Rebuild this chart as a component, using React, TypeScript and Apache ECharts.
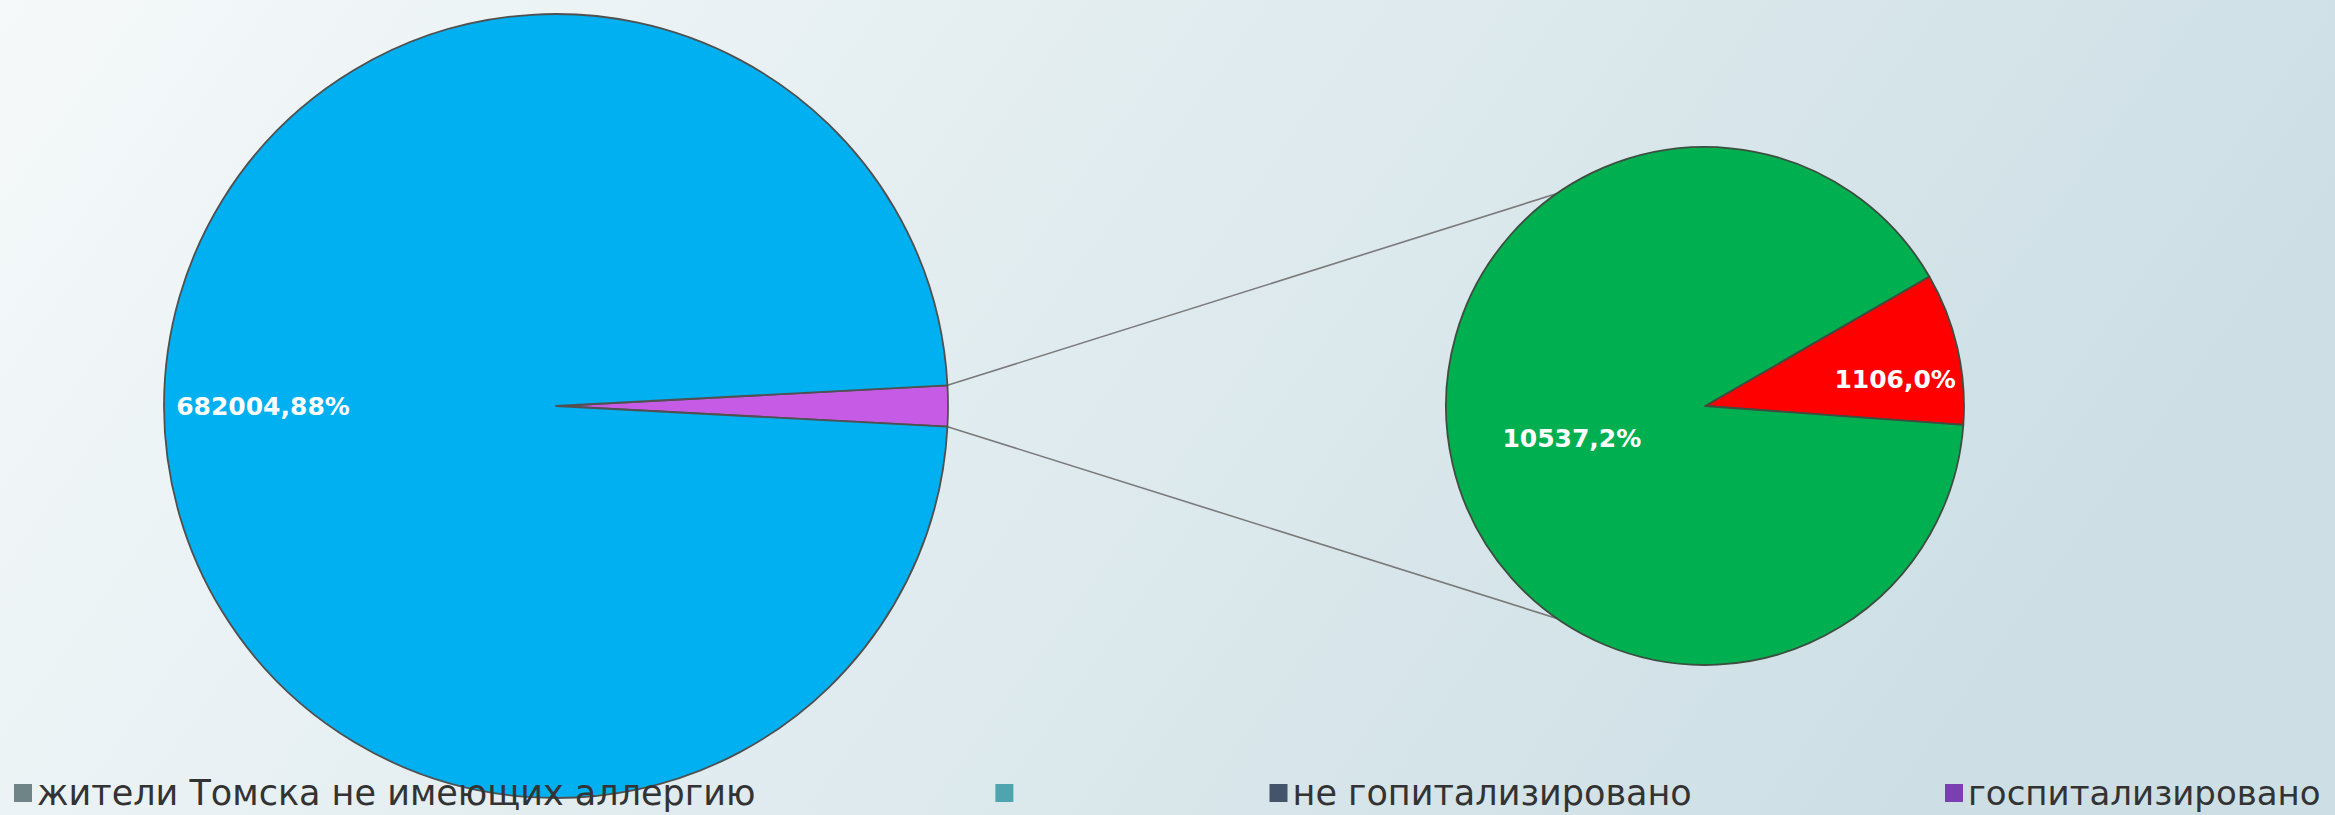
import React, { useEffect, useRef } from "react";
import * as echarts from "echarts";

// ---- data ----
const MAIN_NAMES = ["жители Томска не имеющих аллергию", " "];
const MAIN_VALUES = [682004];
const SECOND_NAMES = ["госпитализировано", "не гопитализировано"];
const SECOND_VALUES = [1106, 10537];
const MAIN_LABELS = ["682004,88%", ""];
const SECOND_LABELS = ["1106,0%", "10537,2%"];
const LEGEND_NAMES_A = ["жители Томска не имеющих аллергию", " ", "не гопитализировано"];
const LEGEND_COLORS_A = ["#6f8486", "#4fa5ad", "#44546a"];
const LEGEND_NAMES_B = ["госпитализировано"];
const LEGEND_COLORS_B = ["#7a3fb0"];

// ---- layout / style ----
const MAIN_CENTER = [556, 406];
const MAIN_R = 392;
const SEC_CENTER = [1705, 406];
const SEC_R = 259;
const SEC_START = 30;
const MAIN_LABEL_SHIFT = [[0, 0], [-94, 0]];
const SEC_LABEL_SHIFT = [[61, 3], [-4, 3]];

export default function App() {
  const ref = useRef<HTMLDivElement>(null);
  useEffect(() => {
    document.body.style.margin = "0";
    const chart = echarts.init(ref.current!, null, { renderer: "svg" });
    const otherTotal = SECOND_VALUES.reduce((a, b) => a + b, 0);
    const mainTotal = MAIN_VALUES[0] + otherTotal;
    const otherAngle = (otherTotal / mainTotal) * 360;
    const half = (otherAngle / 2) * Math.PI / 180;
    const p1 = [MAIN_CENTER[0] + MAIN_R * Math.cos(half), MAIN_CENTER[1] - MAIN_R * Math.sin(half)];
    const p2 = [MAIN_CENTER[0] + MAIN_R * Math.cos(half), MAIN_CENTER[1] + MAIN_R * Math.sin(half)];
    const q1 = [SEC_CENTER[0], SEC_CENTER[1] - SEC_R];
    const q2 = [SEC_CENTER[0], SEC_CENTER[1] + SEC_R];

    const labelStyle = {
      show: true,
      position: "inside",
      color: "#ffffff",
      fontFamily: "DejaVu Sans",
      fontWeight: "bold",
      fontSize: 25,
    };

    const legendBase = {
      top: 775,
      width: 2600,
      padding: 0,
      itemGap: 240,
      itemWidth: 18,
      itemHeight: 18,
      icon: "rect",
      selectedMode: false,
      textStyle: { fontFamily: "DejaVu Sans", fontSize: 35, color: "#333333", lineHeight: 36 },
    };

    chart.setOption({
      animation: false,
      backgroundColor: new echarts.graphic.LinearGradient(0, 0, 1, 0.25, [
        { offset: 0, color: "#f5f9fa" },
        { offset: 1, color: "#cddfe5" },
      ]),
      legend: [
        {
          ...legendBase,
          left: 14,
          data: LEGEND_NAMES_A.map((n, i) => ({ name: n, itemStyle: { color: LEGEND_COLORS_A[i], borderWidth: 0 } })),
        },
        {
          ...legendBase,
          left: 1945,
          textStyle: { ...legendBase.textStyle, fontSize: 34 },
          data: LEGEND_NAMES_B.map((n, i) => ({ name: n, itemStyle: { color: LEGEND_COLORS_B[i], borderWidth: 0 } })),
        },
      ],
      graphic: [
        { type: "line", shape: { x1: p1[0], y1: p1[1], x2: q1[0], y2: q1[1] }, style: { stroke: "#7a7a7a", lineWidth: 1.6 }, z: 0 },
        { type: "line", shape: { x1: p2[0], y1: p2[1], x2: q2[0], y2: q2[1] }, style: { stroke: "#7a7a7a", lineWidth: 1.6 }, z: 0 },
      ],
      series: [
        {
          type: "pie",
          z: 3,
          center: MAIN_CENTER,
          radius: MAIN_R,
          startAngle: otherAngle / 2,
          clockwise: true,
          avoidLabelOverlap: false,
          label: { ...labelStyle, formatter: (p: any) => MAIN_LABELS[p.dataIndex === 0 ? 1 : 0] },
          labelLine: { show: false },
          labelLayout: (p: any) => {
            const s = MAIN_LABEL_SHIFT[p.dataIndex];
            return { dx: s[0], dy: s[1] };
          },
          itemStyle: { borderColor: "#505050", borderWidth: 1.8 },
          emphasis: { disabled: true },
          data: [
            { name: MAIN_NAMES[1], value: otherTotal, itemStyle: { color: "#c65ce6" } },
            { name: MAIN_NAMES[0], value: MAIN_VALUES[0], itemStyle: { color: "#00b0f0" } },
          ],
        },
        {
          type: "pie",
          z: 3,
          center: SEC_CENTER,
          radius: SEC_R,
          startAngle: SEC_START,
          clockwise: true,
          avoidLabelOverlap: false,
          label: { ...labelStyle, formatter: (p: any) => SECOND_LABELS[p.dataIndex] },
          labelLine: { show: false },
          labelLayout: (p: any) => {
            const s = SEC_LABEL_SHIFT[p.dataIndex];
            return { dx: s[0], dy: s[1] };
          },
          itemStyle: { borderColor: "#3d4d40", borderWidth: 1.8 },
          emphasis: { disabled: true },
          data: [
            { name: SECOND_NAMES[0], value: SECOND_VALUES[0], itemStyle: { color: "#ff0000" } },
            { name: SECOND_NAMES[1], value: SECOND_VALUES[1], itemStyle: { color: "#00b050" } },
          ],
        },
      ],
    });
    return () => chart.dispose();
  }, []);
  return <div ref={ref} style={{ position: "fixed", left: 0, top: 0, width: 2335, height: 815 }} />;
}
